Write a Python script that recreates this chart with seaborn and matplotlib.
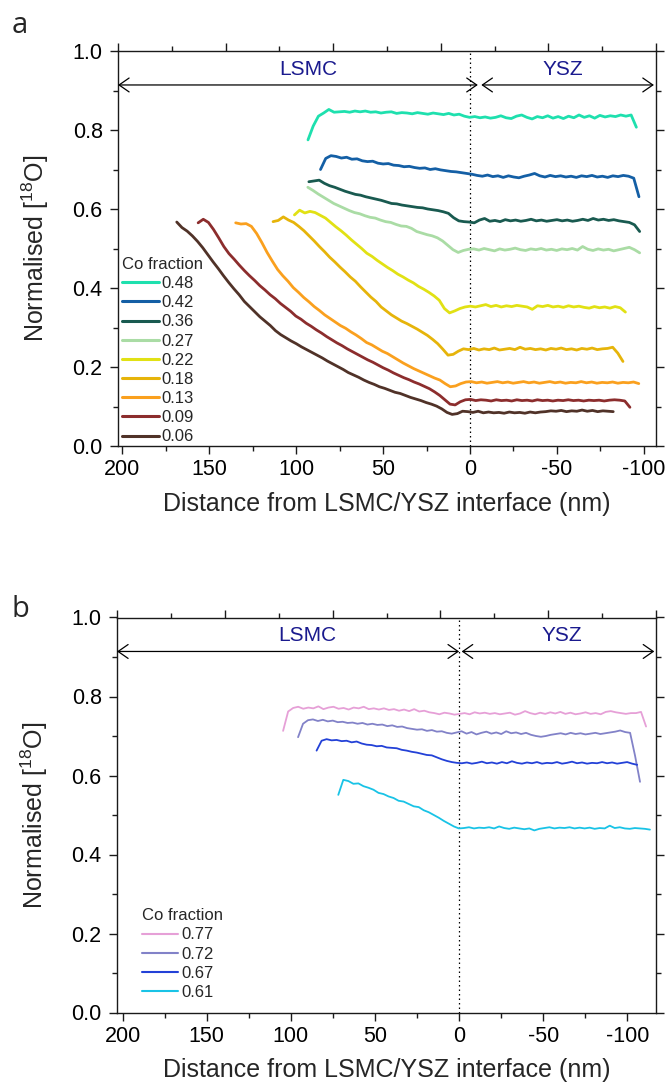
import numpy as np
import pandas as pd
import matplotlib
matplotlib.use("Agg")
import matplotlib.pyplot as plt
from matplotlib.lines import Line2D
from matplotlib.patches import FancyArrowPatch
from matplotlib.ticker import MultipleLocator, FormatStrFormatter
import seaborn as sns

sns.set_theme(style="ticks")
plt.rcParams["font.family"] = ["Liberation Sans", "DejaVu Sans"]
plt.rcParams["mathtext.default"] = "regular"
plt.rcParams["axes.unicode_minus"] = False

# ---------------- panel a : Co fraction 0.06 - 0.48 ----------------
co_a = ["0.48", "0.42", "0.36", "0.27", "0.22", "0.18", "0.13", "0.09", "0.06"]
colors_a = ["#1ee0ae", "#145fa5", "#195a50", "#aadca5", "#e1e114",
            "#e6b40a", "#faa01e", "#8c2d2d", "#503228"]
# first and last sampled distance (nm) of each profile
start_a = [93.2, 86.0, 92.7, 93.3, 101.0, 113.3, 134.8, 156.4, 168.7]
end_a = [-95.7, -97.2, -97.6, -97.6, -89.4, -88.0, -97.1, -92.0, -82.4]

o18_048 = [0.775, 0.810, 0.835, 0.843, 0.852, 0.845, 0.846, 0.847, 0.845, 0.848,
           0.846, 0.848, 0.845, 0.846, 0.843, 0.845, 0.846, 0.842, 0.844, 0.843,
           0.841, 0.844, 0.842, 0.840, 0.843, 0.841, 0.839, 0.842, 0.838, 0.840,
           0.835, 0.832, 0.834, 0.831, 0.833, 0.830, 0.832, 0.836, 0.831, 0.829,
           0.835, 0.838, 0.832, 0.828, 0.834, 0.831, 0.836, 0.830, 0.834, 0.829,
           0.835, 0.831, 0.838, 0.832, 0.836, 0.830, 0.837, 0.833, 0.836, 0.834,
           0.838, 0.835, 0.838, 0.807]
o18_042 = [0.700, 0.728, 0.735, 0.733, 0.729, 0.731, 0.726, 0.727, 0.722, 0.720,
           0.721, 0.716, 0.714, 0.715, 0.711, 0.710, 0.707, 0.708, 0.705, 0.703,
           0.704, 0.700, 0.702, 0.699, 0.697, 0.695, 0.694, 0.692, 0.690, 0.688,
           0.685, 0.683, 0.686, 0.682, 0.684, 0.680, 0.684, 0.681, 0.679, 0.683,
           0.686, 0.690, 0.684, 0.681, 0.685, 0.682, 0.684, 0.681, 0.683, 0.680,
           0.684, 0.682, 0.685, 0.681, 0.683, 0.680, 0.684, 0.682, 0.685, 0.683,
           0.678, 0.631]
o18_036 = [0.669, 0.671, 0.673, 0.665, 0.659, 0.655, 0.650, 0.645, 0.641, 0.637,
           0.635, 0.631, 0.628, 0.625, 0.622, 0.618, 0.614, 0.613, 0.610, 0.608,
           0.606, 0.604, 0.603, 0.600, 0.598, 0.596, 0.593, 0.589, 0.578, 0.570,
           0.568, 0.567, 0.565, 0.572, 0.576, 0.569, 0.571, 0.568, 0.573, 0.570,
           0.572, 0.569, 0.571, 0.574, 0.570, 0.572, 0.569, 0.571, 0.573, 0.570,
           0.572, 0.569, 0.571, 0.574, 0.571, 0.576, 0.572, 0.574, 0.571, 0.573,
           0.570, 0.568, 0.566, 0.560, 0.543]
o18_027 = [0.655, 0.647, 0.638, 0.630, 0.622, 0.614, 0.608, 0.602, 0.596, 0.591,
           0.588, 0.583, 0.579, 0.577, 0.572, 0.568, 0.566, 0.561, 0.557, 0.556,
           0.551, 0.543, 0.539, 0.535, 0.532, 0.527, 0.519, 0.508, 0.497, 0.490,
           0.495, 0.498, 0.499, 0.496, 0.500, 0.497, 0.494, 0.499, 0.496, 0.498,
           0.501, 0.497, 0.495, 0.499, 0.497, 0.500, 0.496, 0.498, 0.495, 0.499,
           0.497, 0.500, 0.496, 0.505, 0.498, 0.495, 0.499, 0.496, 0.498, 0.494,
           0.497, 0.500, 0.503, 0.497, 0.489]
o18_022 = [0.585, 0.597, 0.590, 0.594, 0.591, 0.584, 0.577, 0.566, 0.555, 0.545,
           0.534, 0.522, 0.511, 0.500, 0.488, 0.480, 0.470, 0.461, 0.452, 0.444,
           0.435, 0.428, 0.420, 0.413, 0.404, 0.397, 0.389, 0.380, 0.369, 0.348,
           0.337, 0.342, 0.348, 0.352, 0.354, 0.352, 0.355, 0.358, 0.353, 0.356,
           0.352, 0.355, 0.353, 0.356, 0.354, 0.352, 0.346, 0.355, 0.353, 0.356,
           0.352, 0.354, 0.351, 0.355, 0.352, 0.354, 0.351, 0.349, 0.353, 0.350,
           0.352, 0.349, 0.353, 0.350, 0.339]
o18_018 = [0.568, 0.571, 0.580, 0.572, 0.566, 0.556, 0.545, 0.532, 0.519, 0.505,
           0.492, 0.478, 0.466, 0.453, 0.441, 0.428, 0.417, 0.403, 0.390, 0.377,
           0.366, 0.352, 0.342, 0.332, 0.324, 0.316, 0.310, 0.303, 0.296, 0.288,
           0.280, 0.270, 0.259, 0.245, 0.230, 0.232, 0.240, 0.246, 0.244, 0.247,
           0.243, 0.246, 0.244, 0.248, 0.243, 0.245, 0.247, 0.244, 0.250, 0.245,
           0.247, 0.244, 0.246, 0.243, 0.247, 0.245, 0.248, 0.244, 0.246, 0.243,
           0.247, 0.245, 0.248, 0.244, 0.246, 0.247, 0.250, 0.235, 0.214]
o18_013 = [0.565, 0.562, 0.563, 0.556, 0.538, 0.515, 0.490, 0.468, 0.447, 0.431,
           0.417, 0.401, 0.389, 0.376, 0.365, 0.353, 0.343, 0.332, 0.323, 0.314,
           0.305, 0.298, 0.289, 0.281, 0.272, 0.262, 0.256, 0.248, 0.240, 0.234,
           0.226, 0.218, 0.210, 0.203, 0.196, 0.190, 0.184, 0.178, 0.172, 0.167,
           0.158, 0.150, 0.152, 0.158, 0.162, 0.163, 0.160, 0.162, 0.159, 0.161,
           0.163, 0.160, 0.162, 0.159, 0.161, 0.163, 0.160, 0.162, 0.159, 0.161,
           0.163, 0.160, 0.162, 0.159, 0.161, 0.160, 0.163, 0.160, 0.162, 0.159,
           0.161, 0.160, 0.162, 0.159, 0.161, 0.160, 0.162, 0.158]
o18_009 = [0.565, 0.574, 0.566, 0.548, 0.527, 0.505, 0.487, 0.473, 0.458, 0.444,
           0.431, 0.419, 0.406, 0.395, 0.383, 0.373, 0.361, 0.351, 0.341, 0.329,
           0.321, 0.311, 0.303, 0.294, 0.286, 0.277, 0.269, 0.261, 0.254, 0.246,
           0.239, 0.232, 0.225, 0.218, 0.212, 0.205, 0.198, 0.192, 0.185, 0.179,
           0.173, 0.168, 0.162, 0.157, 0.151, 0.145, 0.137, 0.128, 0.117, 0.106,
           0.104, 0.112, 0.117, 0.118, 0.115, 0.117, 0.116, 0.114, 0.117, 0.115,
           0.116, 0.114, 0.117, 0.115, 0.116, 0.114, 0.117, 0.115, 0.116, 0.114,
           0.116, 0.115, 0.117, 0.115, 0.116, 0.114, 0.116, 0.115, 0.116, 0.114,
           0.116, 0.117, 0.116, 0.114, 0.098]
o18_006 = [0.567, 0.553, 0.544, 0.532, 0.518, 0.502, 0.484, 0.466, 0.449, 0.431,
           0.414, 0.398, 0.383, 0.366, 0.353, 0.340, 0.327, 0.316, 0.305, 0.292,
           0.282, 0.274, 0.266, 0.259, 0.251, 0.244, 0.237, 0.230, 0.223, 0.215,
           0.208, 0.201, 0.194, 0.186, 0.180, 0.174, 0.167, 0.161, 0.156, 0.150,
           0.146, 0.141, 0.136, 0.133, 0.128, 0.123, 0.119, 0.115, 0.110, 0.106,
           0.101, 0.094, 0.085, 0.080, 0.082, 0.088, 0.087, 0.085, 0.088, 0.084,
           0.086, 0.084, 0.085, 0.083, 0.086, 0.084, 0.085, 0.083, 0.086, 0.084,
           0.086, 0.087, 0.089, 0.088, 0.090, 0.087, 0.089, 0.088, 0.091, 0.088,
           0.090, 0.087, 0.089, 0.088, 0.087]
o18_a = [o18_048, o18_042, o18_036, o18_027, o18_022, o18_018, o18_013, o18_009, o18_006]

# ---------------- panel b : Co fraction 0.61 - 0.77 ----------------
co_b = ["0.77", "0.72", "0.67", "0.61"]
colors_b = ["#e6a0d7", "#8282c8", "#2341d7", "#19c3e6"]
start_b = [104.6, 95.7, 84.7, 71.8]
end_b = [-111.1, -107.5, -105.8, -113.4]

o18_077 = [0.713, 0.762, 0.771, 0.774, 0.769, 0.772, 0.770, 0.775, 0.768, 0.772,
           0.774, 0.769, 0.771, 0.767, 0.772, 0.770, 0.774, 0.768, 0.770, 0.767,
           0.770, 0.766, 0.768, 0.764, 0.767, 0.763, 0.768, 0.762, 0.764, 0.760,
           0.758, 0.755, 0.759, 0.757, 0.754, 0.756, 0.758, 0.755, 0.760, 0.757,
           0.759, 0.756, 0.758, 0.755, 0.757, 0.759, 0.754, 0.757, 0.763, 0.758,
           0.755, 0.759, 0.756, 0.760, 0.757, 0.761, 0.756, 0.759, 0.755, 0.757,
           0.760, 0.756, 0.758, 0.755, 0.761, 0.763, 0.760, 0.758, 0.756, 0.758,
           0.758, 0.761, 0.724]
o18_072 = [0.697, 0.731, 0.740, 0.742, 0.738, 0.741, 0.737, 0.739, 0.735, 0.736,
           0.733, 0.734, 0.731, 0.733, 0.729, 0.731, 0.728, 0.729, 0.725, 0.727,
           0.723, 0.724, 0.720, 0.718, 0.716, 0.717, 0.713, 0.715, 0.711, 0.712,
           0.708, 0.706, 0.709, 0.712, 0.706, 0.710, 0.704, 0.708, 0.711, 0.706,
           0.709, 0.705, 0.712, 0.707, 0.709, 0.705, 0.708, 0.703, 0.700, 0.698,
           0.700, 0.703, 0.705, 0.707, 0.704, 0.708, 0.705, 0.707, 0.704, 0.706,
           0.708, 0.705, 0.707, 0.709, 0.711, 0.714, 0.710, 0.708, 0.650, 0.584]
o18_067 = [0.663, 0.688, 0.692, 0.689, 0.690, 0.687, 0.688, 0.684, 0.686, 0.681,
           0.678, 0.677, 0.674, 0.675, 0.671, 0.670, 0.669, 0.665, 0.663, 0.660,
           0.658, 0.655, 0.652, 0.651, 0.646, 0.641, 0.637, 0.634, 0.632, 0.631,
           0.633, 0.630, 0.632, 0.635, 0.631, 0.633, 0.630, 0.634, 0.631, 0.636,
           0.632, 0.630, 0.633, 0.631, 0.634, 0.630, 0.632, 0.631, 0.634, 0.630,
           0.632, 0.635, 0.631, 0.633, 0.630, 0.632, 0.631, 0.634, 0.631, 0.633,
           0.630, 0.632, 0.634, 0.630, 0.627]
o18_061 = [0.551, 0.589, 0.586, 0.579, 0.580, 0.573, 0.569, 0.564, 0.556, 0.553,
           0.547, 0.543, 0.536, 0.534, 0.528, 0.522, 0.520, 0.512, 0.507, 0.500,
           0.493, 0.485, 0.478, 0.471, 0.466, 0.467, 0.469, 0.466, 0.468, 0.467,
           0.469, 0.466, 0.471, 0.467, 0.465, 0.468, 0.466, 0.464, 0.466, 0.461,
           0.465, 0.467, 0.469, 0.466, 0.468, 0.467, 0.469, 0.466, 0.468, 0.466,
           0.468, 0.465, 0.467, 0.466, 0.473, 0.467, 0.469, 0.466, 0.465, 0.467,
           0.466, 0.465, 0.463]
o18_b = [o18_077, o18_072, o18_067, o18_061]

TEXT_BLUE = "#1a1a8e"
AX_COLOR = "#1a1a1a"


def profiles_frame(labels, starts, ends, series):
    parts = []
    for lab, s, e, vals in zip(labels, starts, ends, series):
        parts.append(pd.DataFrame({
            "distance": np.linspace(s, e, len(vals)),
            "o18": vals,
            "co": lab,
        }))
    return pd.concat(parts, ignore_index=True)


def style_axes(ax, xlim):
    ax.set_xlim(*xlim)
    ax.set_ylim(0, 1.0)
    ax.xaxis.set_major_locator(MultipleLocator(50))
    ax.xaxis.set_minor_locator(MultipleLocator(25))
    ax.yaxis.set_major_locator(MultipleLocator(0.2))
    ax.yaxis.set_minor_locator(MultipleLocator(0.1))
    ax.yaxis.set_major_formatter(FormatStrFormatter("%.1f"))
    for sp in ax.spines.values():
        sp.set_visible(True)
        sp.set_linewidth(1.0)
        sp.set_color(AX_COLOR)
    ax.tick_params(which="both", direction="out", left=True, right=True,
                   bottom=True, top=False, labelright=False, width=1.0,
                   color=AX_COLOR, labelcolor="black")
    ax.tick_params(axis="y", which="major", length=6, labelsize=15.5, pad=5)
    ax.tick_params(axis="x", which="major", length=6, labelsize=15.5, pad=3.6)
    ax.tick_params(which="minor", length=3.6)
    # unlabeled top scale
    top = ax.twiny()
    top.set_xlim(0, 1)
    top.xaxis.set_major_locator(MultipleLocator(0.2))
    top.xaxis.set_minor_locator(MultipleLocator(0.1))
    top.tick_params(which="both", direction="out", top=True, labeltop=False,
                    width=1.0, color=AX_COLOR)
    top.tick_params(which="major", length=6)
    top.tick_params(which="minor", length=3.6)
    for sp in top.spines.values():
        sp.set_visible(False)
    ax.set_xlabel("Distance from LSMC/YSZ interface (nm)", fontsize=18)
    ax.set_ylabel("Normalised [$^{18}$O]", fontsize=18)
    ax.xaxis.set_label_coords(0.5, -0.116)
    ax.yaxis.set_label_coords(-0.1245, 0.5)


def region_marks(ax, x_left, x_split_l, x_split_r, x_right):
    y = 0.914
    for a, b in [(x_left, x_split_l), (x_split_r, x_right)]:
        arr = FancyArrowPatch((a, y), (b, y),
                              arrowstyle="<->,head_length=0.72,head_width=0.5",
                              mutation_scale=10, lw=0.9, color="black",
                              shrinkA=0, shrinkB=0, zorder=5)
        ax.add_patch(arr)
    ax.text(0.353, 0.954, "LSMC", transform=ax.transAxes, ha="center",
            va="center", fontsize=15, color=TEXT_BLUE)
    ax.text(0.826, 0.954, "YSZ", transform=ax.transAxes, ha="center",
            va="center", fontsize=15, color=TEXT_BLUE)
    ax.axvline(0, color="black", lw=0.9, ls=(0, (1.2, 2.4)), zorder=1)


def co_legend(ax, labels, colors, lw, anchor):
    handles = [Line2D([], [], color=c, lw=lw) for c in colors]
    ax.legend(handles, labels, title="Co fraction", loc="lower left",
              bbox_to_anchor=anchor, frameon=False, fontsize=12,
              title_fontsize=12, handlelength=2.2, handletextpad=0.15,
              labelspacing=0.25, borderpad=0, borderaxespad=0, alignment="left")


fig = plt.figure(figsize=(6.68, 10.83), dpi=100)
W, H = 668, 1083
ax_a = fig.add_axes([118 / W, 1 - 446 / H, 538 / W, 395 / H])
ax_b = fig.add_axes([117 / W, 1 - 1012.5 / H, 539 / W, 395 / H])

# panel a
df_a = profiles_frame(co_a, start_a, end_a, o18_a)
sns.lineplot(data=df_a, x="distance", y="o18", hue="co", hue_order=co_a,
             palette=colors_a, sort=False, estimator=None, linewidth=2.0,
             ax=ax_a, legend=False, zorder=3)
style_axes(ax_a, (202.5, -107.0))
region_marks(ax_a, 202.5, -4.5, -6.5, -105.8)
co_legend(ax_a, co_a, colors_a, 2.2, (0.008, 0.004))

# panel b
df_b = profiles_frame(co_b, start_b, end_b, o18_b)
sns.lineplot(data=df_b, x="distance", y="o18", hue="co", hue_order=co_b,
             palette=colors_b, sort=False, estimator=None, linewidth=1.3,
             ax=ax_b, legend=False, zorder=3)
style_axes(ax_b, (203.3, -117.0))
region_marks(ax_b, 203.3, 0.0, -1.5, -116.0)
co_legend(ax_b, co_b, colors_b, 1.5, (0.046, 0.032))

fig.text(12 / W, 1 - 33 / H, "a", fontsize=21, family="Open Sans", va="baseline")
fig.text(12 / W, 1 - 617 / H, "b", fontsize=21, family="Open Sans", va="baseline")

fig.savefig("out.png", dpi=100)
